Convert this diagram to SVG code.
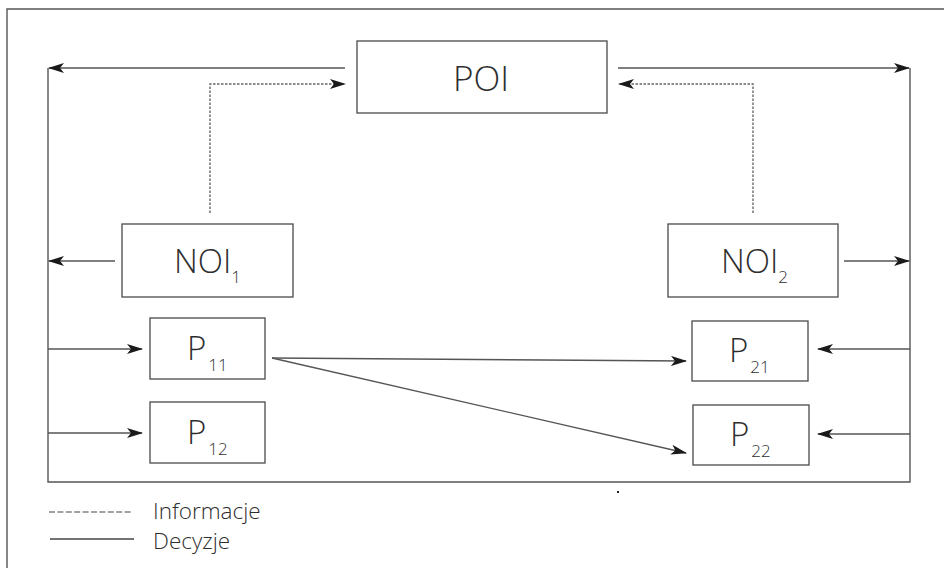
<svg xmlns="http://www.w3.org/2000/svg" width="944" height="568" viewBox="0 0 944 568">
  <style>
    .box { fill: #ffffff; stroke: #4a4a4a; stroke-width: 1.3; }
    .wire { fill: none; stroke: #555555; stroke-width: 1.4; }
    .info { fill: none; stroke: #666666; stroke-width: 1.4; stroke-dasharray: 2.5 1.5; }
    .lbl { font-family: "Open Sans", "Noto Sans", "DejaVu Sans", sans-serif; font-weight: 300; fill: #2e2e2e; }
    .main { font-size: 33px; }
    .big { font-size: 35px; }
    .sub { font-size: 17px; }
    .leg { font-size: 22.5px; }
  </style>
  <defs>
    <marker id="arrow" viewBox="0 0 16 10" refX="15" refY="5" markerWidth="16" markerHeight="10" markerUnits="userSpaceOnUse" orient="auto">
      <path d="M0,0 L16,5 L0,10 L4,5 Z" fill="#1a1a1a"/>
    </marker>
  </defs>

  <rect width="944" height="568" fill="#ffffff"/>

  <!-- outer frame (only top and left edges fall inside the canvas) -->
  <path class="wire" d="M7,568 L7,9 L944,9" stroke="#444444"/>

  <g id="connectors">
    <!-- decision bus: left, bottom and right rails -->
    <path class="wire" d="M48,68 L48,482 L910,482 L910,68"/>
    <!-- POI to the bus -->
    <line class="wire" x1="345" y1="68" x2="49" y2="68" marker-end="url(#arrow)"/>
    <line class="wire" x1="618" y1="68" x2="909" y2="68" marker-end="url(#arrow)"/>
    <!-- information flow from NOI to POI -->
    <path class="info" d="M210,213 L210,84 L345,84" marker-end="url(#arrow)"/>
    <path class="info" d="M753,213 L753,84 L619,84" marker-end="url(#arrow)"/>
    <!-- NOI to the bus -->
    <line class="wire" x1="115" y1="261" x2="49" y2="261" marker-end="url(#arrow)"/>
    <line class="wire" x1="844" y1="261" x2="909" y2="261" marker-end="url(#arrow)"/>
    <!-- bus to executors -->
    <line class="wire" x1="48" y1="349" x2="142" y2="349" marker-end="url(#arrow)"/>
    <line class="wire" x1="48" y1="433" x2="142" y2="433" marker-end="url(#arrow)"/>
    <line class="wire" x1="910" y1="349" x2="818" y2="349" marker-end="url(#arrow)"/>
    <line class="wire" x1="910" y1="434" x2="818" y2="434" marker-end="url(#arrow)"/>
    <!-- P11 to P21 and P22 -->
    <line class="wire" x1="272" y1="358" x2="686" y2="361" marker-end="url(#arrow)"/>
    <line class="wire" x1="272" y1="358" x2="686" y2="453" marker-end="url(#arrow)"/>
  </g>

  <g id="poi">
    <rect class="box" x="357" y="41" width="250" height="72"/>
    <text class="lbl big" x="481" y="91" text-anchor="middle">POI</text>
  </g>

  <g id="noi1">
    <rect class="box" x="122" y="224" width="171" height="73"/>
    <text class="lbl main" x="174" y="273">NOI<tspan class="sub" dy="10">1</tspan></text>
  </g>

  <g id="noi2">
    <rect class="box" x="668" y="224" width="170" height="73"/>
    <text class="lbl main" x="721" y="273">NOI<tspan class="sub" dy="10">2</tspan></text>
  </g>

  <g id="p11">
    <rect class="box" x="150" y="318" width="115" height="61"/>
    <text class="lbl main" x="187" y="360">P<tspan class="sub" dx="2" dy="11">11</tspan></text>
  </g>

  <g id="p12">
    <rect class="box" x="150" y="402" width="115" height="61"/>
    <text class="lbl main" x="187" y="444">P<tspan class="sub" dx="2" dy="11">12</tspan></text>
  </g>

  <g id="p21">
    <rect class="box" x="692" y="321" width="116" height="60"/>
    <text class="lbl main" x="729" y="362">P<tspan class="sub" dx="2" dy="11">21</tspan></text>
  </g>

  <g id="p22">
    <rect class="box" x="693" y="405" width="116" height="60"/>
    <text class="lbl main" x="730" y="446">P<tspan class="sub" dx="2" dy="11">22</tspan></text>
  </g>

  <!-- stray dot below the bus -->
  <rect x="617" y="491" width="2" height="2" fill="#222222"/>

  <g id="legend">
    <line x1="49" y1="512" x2="133" y2="512" stroke="#444444" stroke-width="1.2" stroke-dasharray="6 2.4"/>
    <text class="lbl leg" x="153" y="519">Informacje</text>
    <line x1="50" y1="539" x2="134" y2="539" stroke="#444444" stroke-width="1.3"/>
    <text class="lbl leg" x="153" y="549">Decyzje</text>
  </g>
</svg>
